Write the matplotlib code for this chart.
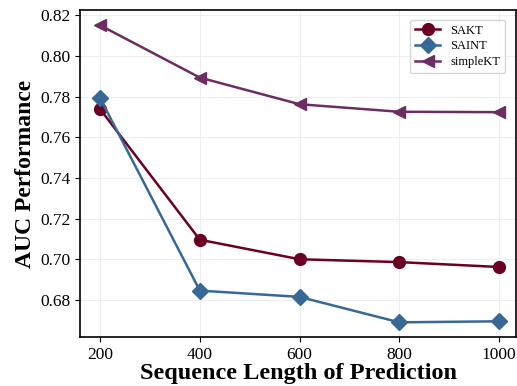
import matplotlib.pyplot as plt

seq_len = [200, 400, 600, 800, 1000]
sakt = [0.7738, 0.7096, 0.7000, 0.6986, 0.6962]
saint = [0.7792, 0.6846, 0.6815, 0.6690, 0.6695]
simplekt = [0.8150, 0.7893, 0.7762, 0.7725, 0.7723]

plt.rcParams['font.family'] = ['Liberation Serif', 'DejaVu Serif']

fig = plt.figure(figsize=(5.17, 3.86), dpi=100)
ax = fig.add_axes([0.155, 0.127, 0.843, 0.847])

ax.plot(seq_len, sakt, color='#6b0022', marker='o', markersize=8.5, linewidth=1.8, label='SAKT')
ax.plot(seq_len, saint, color='#376896', marker='D', markersize=8, linewidth=1.8, label='SAINT')
ax.plot(seq_len, simplekt, color='#6c2d62', marker='<', markersize=9, linewidth=1.8, label='simpleKT')

ax.set_xlim(160, 1034)
ax.set_ylim(0.6618, 0.8225)
ax.set_xticks(seq_len)
ax.set_yticks([0.68, 0.70, 0.72, 0.74, 0.76, 0.78, 0.80, 0.82])
ax.set_yticklabels(['%.2f' % v for v in ax.get_yticks()])
ax.tick_params(labelsize=12.5)
ax.grid(True, color='#eeeeee', linewidth=0.8)
ax.set_axisbelow(True)
for s in ax.spines.values():
    s.set_linewidth(1.2)

ax.set_xlabel('Sequence Length of Prediction', fontsize=17.5, fontweight='bold', labelpad=0)
ax.set_ylabel('AUC Performance', fontsize=17, fontweight='bold', labelpad=3)
ax.legend(loc='upper right', fontsize=9, handlelength=2.0, borderpad=0.4,
          labelspacing=0.3, bbox_to_anchor=(0.99, 0.99))

fig.savefig('out.png', dpi=100)
